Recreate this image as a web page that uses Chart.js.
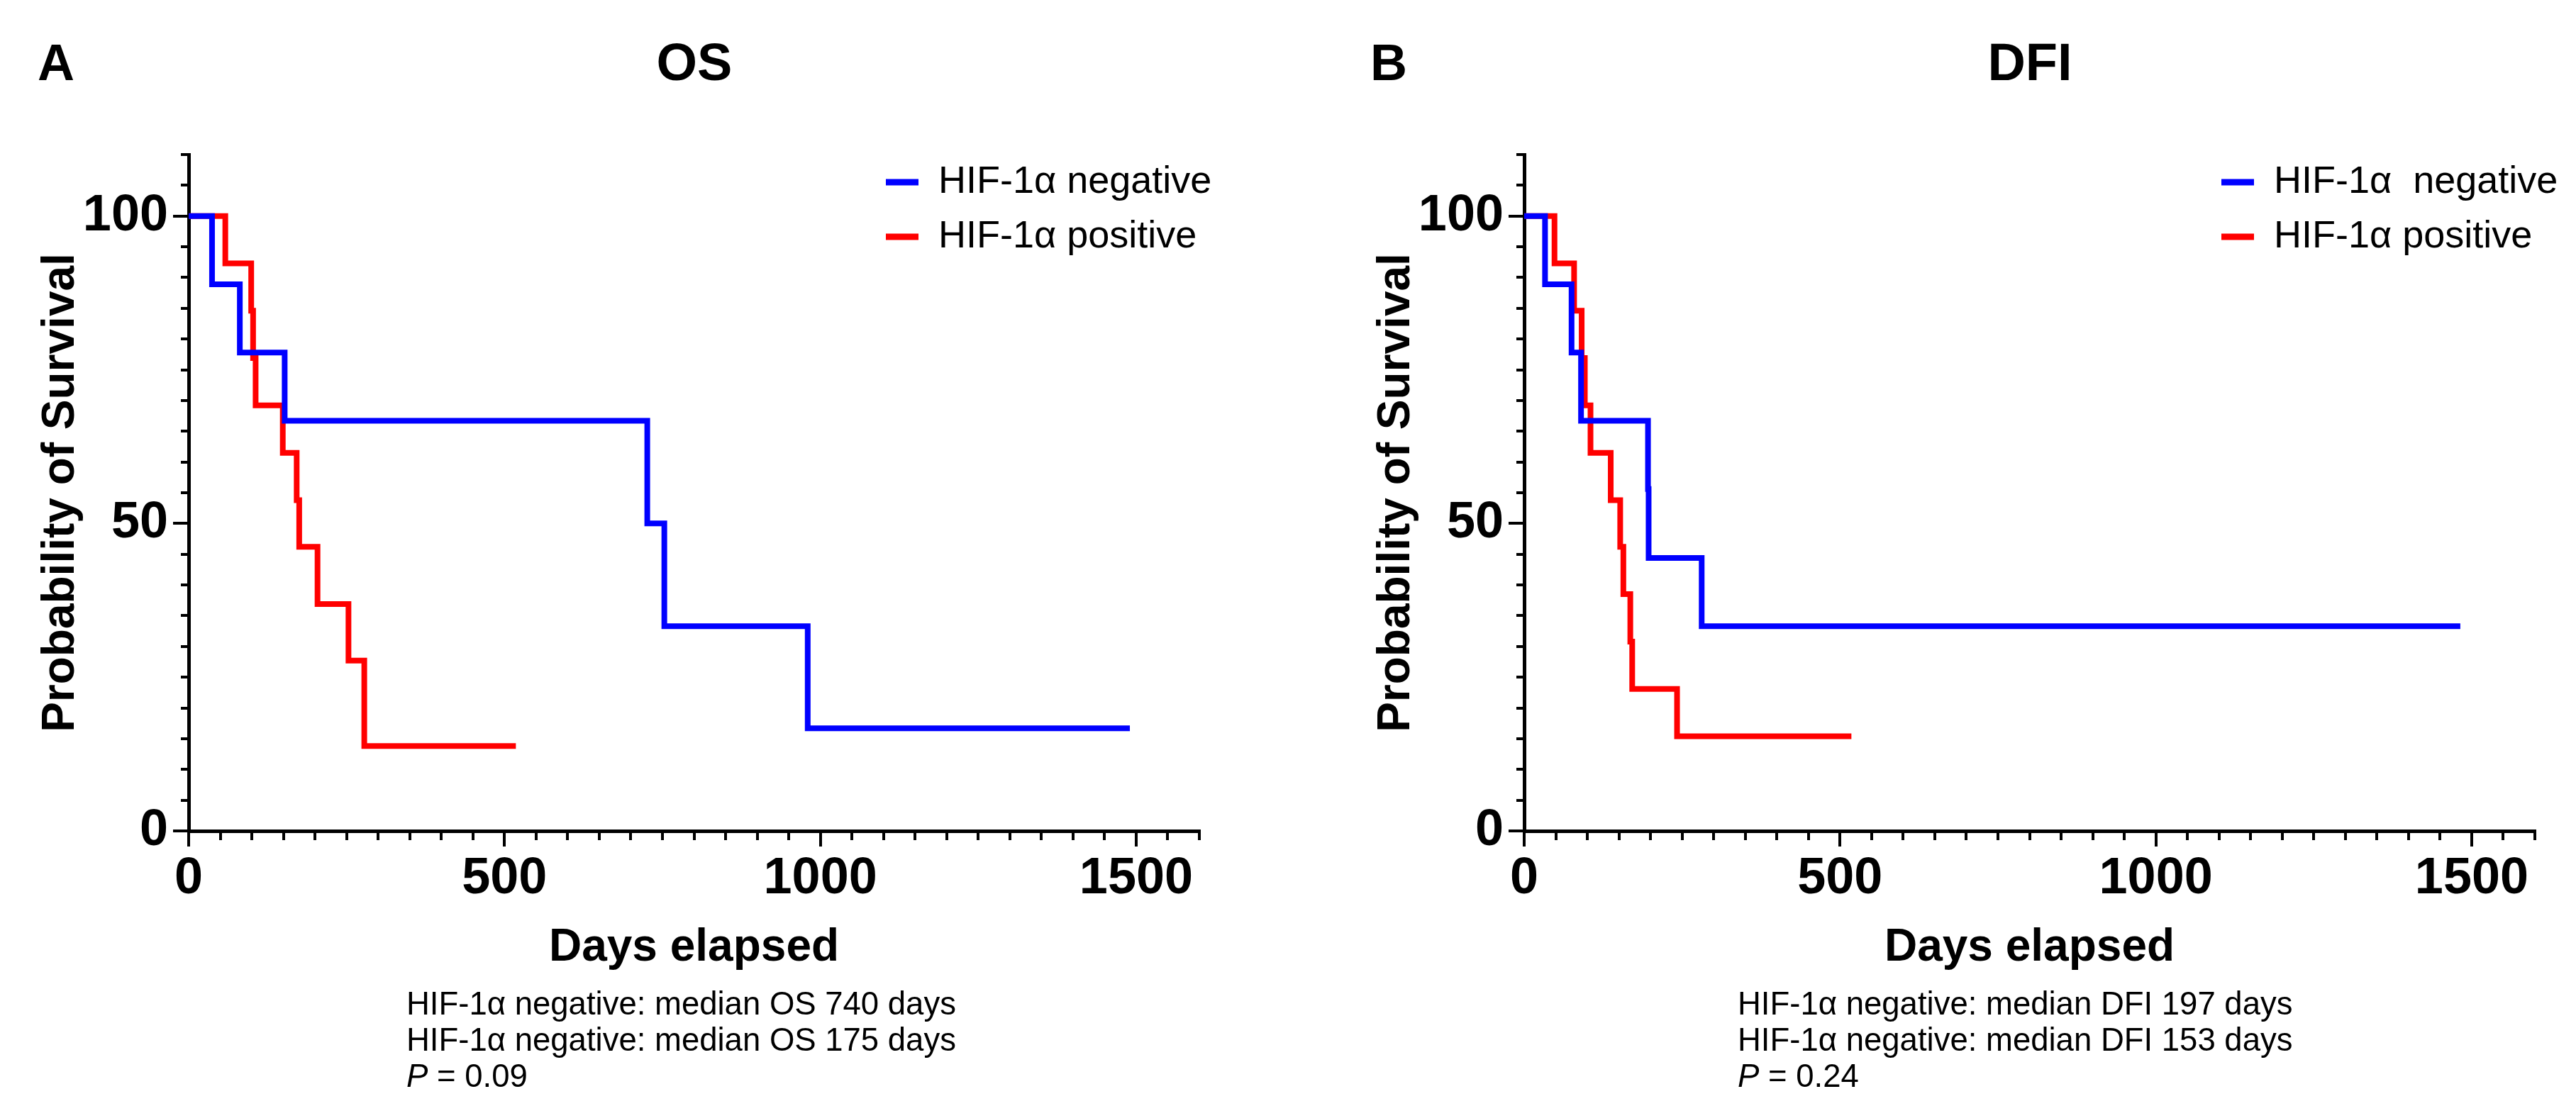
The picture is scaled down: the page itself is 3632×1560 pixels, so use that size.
<!DOCTYPE html>
<html>
<head>
<meta charset="utf-8">
<script src="https://cdn.jsdelivr.net/npm/chart.js@4.4.0/dist/chart.umd.min.js"></script>
<style>
  body { margin: 0; background: #fff; }
  #page { position: relative; width: 3632px; height: 1560px; background: #fff; font-family: "Liberation Sans", Arial, sans-serif; color: #000; }
  canvas { position: absolute; top: 0; }
  .letter, .title { position: absolute; font-weight: bold; line-height: 1; transform: translateX(-50%); white-space: nowrap; }
  .letter { font-size: 72px; top: 52px; }
  .title { font-size: 74px; top: 51px; }
  .note { position: absolute; top: 1390px; font-size: 45.5px; line-height: 51px; white-space: pre; }
</style>
</head>
<body>
<div id="page">
  <canvas id="chartOS" width="1816" height="1560" style="left:0"></canvas>
  <canvas id="chartDFI" width="1816" height="1560" style="left:1816px"></canvas>
  <div class="letter" style="left:79px">A</div>
  <div class="title" style="left:979px">OS</div>
  <div class="letter" style="left:1958px">B</div>
  <div class="title" style="left:2862px">DFI</div>
  <div class="note" style="left:573px">HIF-1α negative: median OS 740 days<br>HIF-1α negative: median OS 175 days<br><i>P</i> = 0.09</div>
  <div class="note" style="left:2450px">HIF-1α negative: median DFI 197 days<br>HIF-1α negative: median DFI 153 days<br><i>P</i> = 0.24</div>
</div>
<script>
// Kaplan-Meier steps (days, % surviving)
var osNegDays = [0, 37, 81, 152, 726, 753, 980, 1490];
var osNegSurv = [100, 88.9, 77.8, 66.7, 50, 33.3, 16.7, 16.7];
var osPosDays = [0, 58, 99, 102, 106, 149, 171, 175, 204, 253, 278, 518];
var osPosSurv = [100, 92.3, 84.6, 76.9, 69.2, 61.5, 53.8, 46.2, 36.9, 27.7, 13.8, 13.8];

var dfiNegDays = [0, 33, 75, 90, 196, 197, 281, 1482];
var dfiNegSurv = [100, 88.9, 77.8, 66.7, 55.6, 44.4, 33.3, 33.3];
var dfiPosDays = [0, 48, 79, 91, 96, 105, 137, 152, 157, 168, 171, 242, 518];
var dfiPosSurv = [100, 92.3, 84.6, 76.9, 69.2, 61.5, 53.8, 46.2, 38.5, 30.8, 23.1, 15.4, 15.4];

var xTicks = [0, 500, 1000, 1500];
var yTicks = [0, 50, 100];

var FONT = '"Liberation Sans", Arial, sans-serif';

function toPoints(days, surv) {
    return days.map(function (d, i) { return { x: d, y: surv[i] }; });
}

function curve(label, color, days, surv) {
    return {
        label: label,
        data: toPoints(days, surv),
        borderColor: color,
        backgroundColor: color,
        borderWidth: 8,
        pointRadius: 0,
        stepped: true,
        fill: false
    };
}

// legend drawn inside the plot, top right, like the prism one
var kmLegend = {
    id: 'kmLegend',
    afterDraw: function (chart) {
        var ctx = chart.ctx;
        var right = chart.chartArea.right;
        var top = chart.chartArea.top;
        ctx.save();
        ctx.font = '54px ' + FONT;
        ctx.textBaseline = 'middle';
        ctx.textAlign = 'left';
        chart.data.datasets.forEach(function (ds, i) {
            var y = top + 39 + i * 77;
            ctx.fillStyle = ds.borderColor;
            ctx.fillRect(right - 442, y - 4.5, 46, 9);
            ctx.fillStyle = '#000';
            ctx.fillText(ds.label, right - 368, y);
        });
        ctx.restore();
    }
};

function plain(v) { return String(v); }

function makeChart(id, datasets, padLeft, padRight) {
    return new Chart(document.getElementById(id), {
        type: 'line',
        data: { datasets: datasets },
        plugins: [kmLegend],
        options: {
            responsive: false,
            animation: false,
            devicePixelRatio: 1,
            layout: { padding: { top: 218, right: padRight, bottom: 0, left: padLeft } },
            plugins: { legend: { display: false }, title: { display: false }, tooltip: { enabled: false } },
            scales: {
                x: {
                    type: 'linear', position: 'bottom', weight: 1,
                    min: 0, max: 1600,
                    afterBuildTicks: function (s) { s.ticks = xTicks.map(function (v) { return { value: v }; }); },
                    ticks: { autoSkip: false, maxRotation: 0, color: '#000', padding: 3, callback: plain, font: { family: FONT, size: 72, weight: 'bold' } },
                    grid: { drawOnChartArea: false, tickLength: 22, lineWidth: 4, color: '#000' },
                    border: { display: true, width: 5, color: '#000' },
                    title: { display: true, text: 'Days elapsed', color: '#000', padding: { top: 0, bottom: 184 }, font: { family: FONT, size: 64, weight: 'bold' } },
                    afterFit: function (s) { s.height = 388; }
                },
                xMinor: {
                    type: 'linear', position: 'bottom', weight: 0,
                    min: 0, max: 1600,
                    ticks: { display: false, stepSize: 50 },
                    grid: { drawOnChartArea: false, tickLength: 13, lineWidth: 4, color: '#000' },
                    border: { display: false },
                    afterFit: function (s) { s.height = 0; }
                },
                y: {
                    type: 'linear', position: 'left', weight: 1,
                    min: 0, max: 110,
                    afterBuildTicks: function (s) { s.ticks = yTicks.map(function (v) { return { value: v }; }); },
                    ticks: { autoSkip: false, color: '#000', padding: 7, callback: plain, font: { family: FONT, size: 72, weight: 'bold' } },
                    grid: { drawOnChartArea: false, tickLength: 22, lineWidth: 4, color: '#000' },
                    border: { display: true, width: 5, color: '#000' },
                    title: { display: true, text: 'Probability of Survival', color: '#000', padding: { top: 48, bottom: 0 }, font: { family: FONT, size: 64, weight: 'bold' } },
                    afterFit: function (s) { s.width = 266; }
                },
                yMinor: {
                    type: 'linear', position: 'left', weight: 0,
                    min: 0, max: 110,
                    ticks: { display: false, stepSize: 5 },
                    grid: { drawOnChartArea: false, tickLength: 11, lineWidth: 4, color: '#000' },
                    border: { display: false },
                    afterFit: function (s) { s.width = 0; }
                }
            }
        }
    });
}

makeChart('chartOS', [
    curve('HIF-1α negative', '#0000ff', osNegDays, osNegSurv),
    curve('HIF-1α positive', '#ff0000', osPosDays, osPosSurv)
], 0, 125);

makeChart('chartDFI', [
    curve('HIF-1α  negative', '#0000ff', dfiNegDays, dfiNegSurv),
    curve('HIF-1α positive', '#ff0000', dfiPosDays, dfiPosSurv)
], 67, 58);
</script>
</body>
</html>
